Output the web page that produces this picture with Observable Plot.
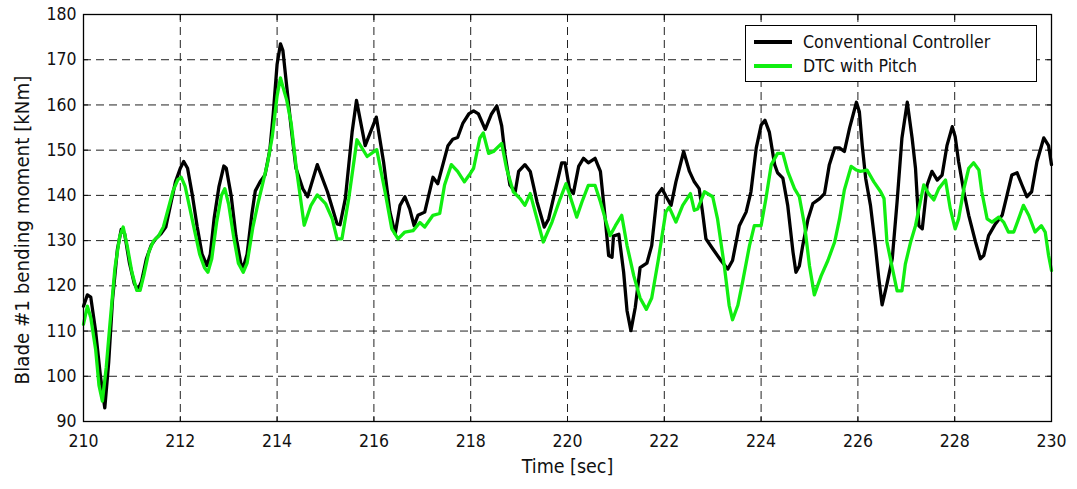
<!DOCTYPE html>
<html>
<head>
<meta charset="utf-8">
<script src="https://cdn.jsdelivr.net/npm/d3@7"></script>
<script src="https://cdn.jsdelivr.net/npm/@observablehq/plot@0.6"></script>
<style>
  html, body { margin: 0; padding: 0; background: #fff; }
  #wrap { position: relative; width: 1077px; height: 489px; font-family: "DejaVu Sans Condensed", "DejaVu Sans", sans-serif; }
  #legend { position: absolute; left: 745px; top: 25px; width: 292px; height: 57px; border: 1.3px solid #000; background: #fff; box-sizing: border-box; font-size: 17.6px; color: #111; }
  #legend .row { position: absolute; left: 0; height: 24px; display: flex; align-items: center; }
  #legend .sw { width: 38px; height: 3.5px; margin-left: 8px; margin-right: 11px; }
</style>
</head>
<body>
<div id="wrap"></div>
<script>
const tConv = [210.0,210.08,210.15,210.25,210.35,210.44,210.52,210.6,210.7,210.78,210.85,210.95,211.05,211.12,211.2,211.3,211.4,211.5,211.6,211.7,211.8,211.9,212.0,212.07,212.15,212.25,212.35,212.45,212.55,212.62,212.7,212.8,212.9,212.95,213.05,213.15,213.25,213.3,213.38,213.48,213.55,213.65,213.75,213.85,213.92,214.0,214.07,214.12,
214.2,214.29,214.39,214.53,214.63,214.83,215.04,215.24,215.3,215.41,215.55,215.64,215.82,216.05,216.2,216.33,216.44,216.54,216.64,216.74,216.83,216.91,217.05,217.22,217.32,217.53,217.63,217.73,217.84,217.96,
218.06,218.16,218.3,218.43,218.54,218.64,218.71,218.81,218.92,218.99,219.12,219.23,219.37,219.52,219.61,219.74,219.88,219.95,220.04,220.12,220.23,220.33,220.43,220.57,220.68,220.78,220.85,220.92,220.95,221.06,221.16,221.23,221.31,221.4,221.5,221.64,221.74,221.85,221.95,222.06,
222.14,222.24,222.4,222.52,222.62,222.72,222.79,222.86,223.0,223.17,223.31,223.41,223.55,223.69,223.79,223.9,224.0,224.08,224.17,224.28,224.34,224.45,224.55,224.66,224.72,224.79,224.86,224.97,225.07,225.21,225.31,225.41,225.52,225.62,225.72,225.83,225.97,
226.03,226.09,226.16,226.26,226.36,226.43,226.5,226.6,226.71,226.81,226.91,227.02,227.12,227.19,227.26,227.33,227.43,227.53,227.64,227.74,227.84,227.95,228.01,228.08,228.19,228.29,228.43,228.53,228.6,228.7,228.84,228.98,229.08,229.18,229.29,229.39,229.49,229.59,229.7,229.84,229.94,230.0];
const vConv = [115.5,118,117.5,110,100,93,103,117,128,132.5,131.5,125,120.5,119,121,126,129,130.5,131.5,133,138,143,146,147.5,146,140,133,127,124.5,127,135,142,146.5,146,140,131,125,124,127,136,141,143,144.5,150,158,169,173.5,172,
164,155,146,141.5,139.7,146.8,140.8,133.7,133.5,139.3,154,161,151,157.3,147.4,136.4,131.5,137.8,139.7,137,133.3,135.6,136.3,144,142.6,151,152.4,152.8,156,158,
158.7,158,154.6,158,159.8,155.4,149,142.3,140.8,145.3,146.8,145.3,138.6,133,134.8,140.8,147.2,147.2,141.5,140.4,146.4,148.2,147.2,148.2,145.3,134.8,126.7,126.3,131,131.4,123,114.5,110.1,115.2,124,125,128.9,140,141.5,139.3,
137.8,143,149.7,145.3,143,141.5,136.3,130.4,128.2,125.6,123.7,125.6,133.3,136.3,140.8,150.5,155.5,156.6,154,146.8,145,143.8,137.8,127.4,123,124.4,128.9,134.8,138.2,139.3,140.4,146.8,150.5,150.5,149.7,155,160.6,
158.5,151,143.8,137.8,128.9,121.8,115.8,120.4,126,138.6,152.7,160.6,152.7,146,133.3,132.6,142.3,145.3,143.4,144.5,151,155.2,153,147.5,140.8,135.6,129.7,126,126.7,131.1,133.7,135.6,140,144.5,145,142.3,139.7,140.8,147.5,152.7,151,146.8];

const tDtc = [210.0,210.08,210.15,210.25,210.32,210.39,210.47,210.55,210.65,210.75,210.82,210.9,211.0,211.1,211.17,211.25,211.35,211.45,211.55,211.65,211.75,211.85,211.95,212.02,212.1,212.2,212.3,212.4,212.5,212.57,212.65,212.75,212.85,212.92,213.0,213.1,213.2,213.3,213.38,213.5,213.6,213.7,213.8,213.9,214.0,214.07,214.12,
214.2,214.29,214.39,214.56,214.7,214.83,215.0,215.14,215.24,215.34,215.48,215.65,215.86,216.06,216.23,216.37,216.5,216.64,216.81,216.95,217.05,217.22,217.36,217.46,217.6,217.73,217.87,217.97,
218.06,218.19,218.26,218.37,218.47,218.64,218.74,218.88,219.02,219.12,219.23,219.37,219.5,219.68,219.85,219.97,220.09,220.19,220.3,220.43,220.57,220.68,220.78,220.88,220.99,221.12,221.23,221.37,221.5,221.63,221.74,221.88,222.03,
222.1,222.24,222.38,222.54,222.62,222.69,222.83,223.0,223.1,223.24,223.34,223.41,223.52,223.62,223.76,223.86,224.0,224.1,224.21,224.34,224.45,224.55,224.69,224.79,224.9,225.0,225.1,225.24,225.38,225.52,225.62,225.72,225.86,225.97,
226.05,226.19,226.33,226.47,226.54,226.6,226.71,226.81,226.91,226.98,227.09,227.19,227.29,227.36,227.46,227.57,227.67,227.81,227.91,228.01,228.08,228.19,228.29,228.39,228.5,228.56,228.67,228.77,228.91,229.01,229.11,229.22,229.32,229.42,229.53,229.66,229.79,229.87,229.94,230.0];
const vDtc = [111.5,115.5,113,106,98,94.5,102,112,124,131,133,129,123,119,119,122.5,127.5,130,131,133,137,141,143.5,144,142,137,132,127,124,123,126,134,140,141.5,138,131,125,123,125,133,138,142.5,147,153,162,166,164,
161,156,146.6,133.4,137.8,140.1,138.2,134.8,130.4,130.4,139.3,152.3,148.6,150.1,140.8,132.6,130.4,131.9,132.2,134,133,135.6,136,142.3,146.8,145.3,143,144.5,
146,152.7,153.8,149.3,149.7,151.5,146,140.8,139.3,137.8,140.4,134.8,129.7,134.1,139.3,142.6,138.6,135.2,138.6,142.2,142.2,138.6,134.8,131.1,133.3,135.6,128.9,122.2,117.3,114.8,117.3,126,136.3,
137.4,134.1,137.8,140.4,136.7,137,140.8,139.7,134.8,124.4,115.7,112.5,115.7,121,128.9,133.3,133.3,139.3,146.8,149.3,149.3,145.3,141.5,139.7,133.3,124.4,118,122.2,125.6,129.7,134.8,141.2,146.4,145.6,
145.3,145.6,143,140.8,139.3,129.7,124,118.9,118.9,124.8,129.7,133.3,138.6,142.3,140.4,139,141.5,143.4,137,132.6,134.8,141.5,146,147.2,145.6,140.8,134.8,134.1,135.2,134.1,131.9,131.9,134.8,137.8,135.6,131.9,133.3,131.9,126.7,123.4];

const xTicks = [210,212,214,216,218,220,222,224,226,228,230];
const yTicks = [90,100,110,120,130,140,150,160,170,180];
const xLabel = "Time [sec]";
const yLabel = "Blade #1 bending moment [kNm]";
const seriesNames = ["Conventional Controller", "DTC with Pitch"];
const seriesColors = ["#000000", "#11ee11"];

const conv = tConv.map((t, i) => ({t, v: vConv[i]}));
const dtc = tDtc.map((t, i) => ({t, v: vDtc[i]}));

const font = '"DejaVu Sans Condensed", "DejaVu Sans", sans-serif';
const noText = () => "";

const chart = Plot.plot({
  width: 1077,
  height: 489,
  marginLeft: 83,
  marginRight: 26,
  marginTop: 14,
  marginBottom: 68,
  style: {fontFamily: font, fontSize: "17.5px", color: "#111", background: "#fff", overflow: "visible"},
  x: {domain: [210, 230]},
  y: {domain: [90, 180]},
  marks: [
    Plot.ruleX(xTicks.slice(1, -1), {stroke: "#222", strokeWidth: 1, strokeDasharray: "8,5"}),
    Plot.ruleY(yTicks.slice(1, -1), {stroke: "#222", strokeWidth: 1, strokeDasharray: "8,5"}),
    Plot.axisX({ticks: xTicks, tickSize: 0, tickPadding: 13, fontSize: 17.5, label: null}),
    Plot.axisY({ticks: yTicks, tickSize: 0, tickPadding: 7, fontSize: 17.5, label: null}),
    Plot.axisX({ticks: xTicks, anchor: "bottom", tickSize: -5, tickFormat: noText, label: null}),
    Plot.axisX({ticks: xTicks, anchor: "top", tickSize: -5, tickFormat: noText, label: null}),
    Plot.axisY({ticks: yTicks, anchor: "left", tickSize: -5, tickFormat: noText, label: null}),
    Plot.axisY({ticks: yTicks, anchor: "right", tickSize: -5, tickFormat: noText, label: null}),
    Plot.text([xLabel], {text: d => d, frameAnchor: "bottom", textAnchor: "middle", lineAnchor: "top", dy: 38, fontSize: 19.5, fill: "#111"}),
    Plot.text([yLabel], {text: d => d, frameAnchor: "left", textAnchor: "middle", lineAnchor: "middle", rotate: -90, dx: -61, dy: 12, fontSize: 20.3, fill: "#111"}),
    Plot.line(conv, {x: "t", y: "v", stroke: seriesColors[0], strokeWidth: 3.3, strokeLinejoin: "round"}),
    Plot.line(dtc, {x: "t", y: "v", stroke: seriesColors[1], strokeWidth: 3.3, strokeLinejoin: "round"}),
    Plot.frame({stroke: "#000", strokeWidth: 1.3})
  ]
});

const wrap = document.getElementById("wrap");
wrap.appendChild(chart);

const legend = document.createElement("div");
legend.id = "legend";
seriesNames.forEach((name, i) => {
  const row = document.createElement("div");
  row.className = "row";
  row.style.top = (4 + i * 24) + "px";
  const sw = document.createElement("div");
  sw.className = "sw";
  sw.style.background = seriesColors[i];
  const label = document.createElement("span");
  label.textContent = name;
  row.appendChild(sw);
  row.appendChild(label);
  legend.appendChild(row);
});
wrap.appendChild(legend);
</script>
</body>
</html>
